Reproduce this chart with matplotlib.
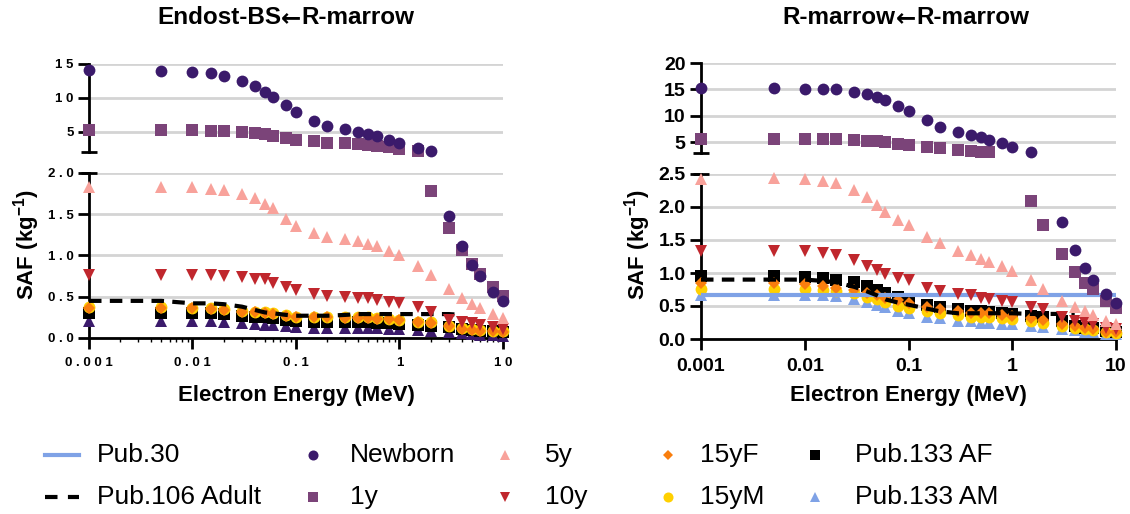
import numpy as np
import matplotlib
matplotlib.use('Agg')
import matplotlib.pyplot as plt
from matplotlib.lines import Line2D
from matplotlib.ticker import LogLocator, NullFormatter

plt.rcParams['font.family'] = ['Liberation Sans', 'DejaVu Sans']
plt.rcParams['mathtext.fontset'] = 'custom'
plt.rcParams['mathtext.rm'] = 'Liberation Sans:bold'
plt.rcParams['mathtext.bf'] = 'Liberation Sans:bold'
plt.rcParams['mathtext.default'] = 'bf'

# electron energies (MeV)
energy = [0.001, 0.005, 0.01, 0.015, 0.02, 0.03, 0.04, 0.05, 0.06, 0.08, 0.1,
          0.15, 0.2, 0.3, 0.4, 0.5, 0.6, 0.8, 1, 1.5, 2, 3, 4, 5, 6, 8, 10]
pub106_energy = energy[:23]
pub30_energy = [0.001, 10]

# Endost-BS <- R-marrow
bs_newborn = [14.1, 14.0, 13.8, 13.6, 13.2, 12.5, 11.7, 10.9, 10.1, 8.9, 7.9, 6.6, 5.9, 5.4,
              5.0, 4.7, 4.4, 3.8, 3.4, 2.65, 2.1, 1.48, 1.11, 0.89, 0.75, 0.56, 0.45]
bs_1y = [5.2, 5.2, 5.2, 5.15, 5.1, 5.0, 4.85, 4.6, 4.4, 4.0, 3.7, 3.6, 3.4, 3.3,
         3.15, 3.0, 2.85, 2.7, 2.5, 2.2, 1.78, 1.33, 1.07, 0.90, 0.78, 0.62, 0.51]
bs_5y = [1.83, 1.83, 1.83, 1.81, 1.79, 1.75, 1.70, 1.63, 1.57, 1.44, 1.36, 1.27, 1.22, 1.20,
         1.18, 1.14, 1.11, 1.05, 1.01, 0.87, 0.76, 0.59, 0.49, 0.415, 0.365, 0.29, 0.245]
bs_10y = [0.76, 0.76, 0.76, 0.76, 0.75, 0.74, 0.72, 0.71, 0.67, 0.62, 0.58, 0.53, 0.51, 0.50,
          0.49, 0.48, 0.46, 0.44, 0.42, 0.37, 0.31, 0.22, 0.20, 0.18, 0.16, 0.13, 0.11]
bs_15yf = [0.36, 0.36, 0.36, 0.35, 0.34, 0.32, 0.31, 0.30, 0.29, 0.27, 0.26, 0.25, 0.25, 0.24,
           0.24, 0.24, 0.23, 0.23, 0.22, 0.20, 0.18, 0.14, 0.11, 0.10, 0.09, 0.08, 0.07]
bs_15ym = [0.37, 0.37, 0.36, 0.36, 0.35, 0.33, 0.32, 0.31, 0.30, 0.28, 0.26, 0.25, 0.25, 0.25,
           0.25, 0.25, 0.24, 0.23, 0.22, 0.20, 0.19, 0.15, 0.12, 0.11, 0.10, 0.09, 0.08]
bs_af = [0.30, 0.30, 0.30, 0.30, 0.29, 0.27, 0.26, 0.25, 0.24, 0.22, 0.21, 0.19, 0.19, 0.19,
         0.19, 0.19, 0.18, 0.18, 0.17, 0.16, 0.15, 0.13, 0.11, 0.10, 0.09, 0.08, 0.07]
bs_am = [0.21, 0.21, 0.21, 0.21, 0.20, 0.18, 0.17, 0.16, 0.155, 0.14, 0.13, 0.125, 0.12, 0.12,
         0.12, 0.12, 0.12, 0.115, 0.11, 0.10, 0.09, 0.07, 0.06, 0.05, 0.04, 0.035, 0.03]
bs_pub106 = [0.45, 0.45, 0.42, 0.42, 0.41, 0.38, 0.34, 0.31, 0.30, 0.28, 0.27, 0.27,
             0.27, 0.28, 0.29, 0.29, 0.29, 0.29, 0.29, 0.29, 0.29, 0.29, 0.28]

# R-marrow <- R-marrow
rm_newborn = [15.3, 15.3, 15.1, 15.0, 15.0, 14.5, 14.1, 13.6, 13.0, 11.9, 11.0, 9.2, 8.0, 7.0,
              6.4, 6.0, 5.5, 4.8, 4.2, 3.2, 2.8, 1.78, 1.35, 1.08, 0.90, 0.68, 0.54]
rm_1y = [5.6, 5.6, 5.6, 5.6, 5.6, 5.4, 5.3, 5.2, 5.1, 4.7, 4.55, 4.2, 4.0, 3.6,
         3.4, 3.2, 3.1, 2.9, 2.7, 2.09, 1.73, 1.29, 1.02, 0.85, 0.76, 0.57, 0.47]
rm_5y = [2.43, 2.44, 2.43, 2.40, 2.36, 2.25, 2.15, 2.03, 1.93, 1.80, 1.73, 1.54, 1.45, 1.34,
         1.27, 1.21, 1.17, 1.10, 1.03, 0.89, 0.76, 0.58, 0.48, 0.42, 0.36, 0.28, 0.23]
rm_10y = [1.34, 1.33, 1.33, 1.30, 1.27, 1.20, 1.11, 1.05, 0.99, 0.92, 0.89, 0.78, 0.73, 0.68,
          0.66, 0.62, 0.60, 0.58, 0.56, 0.49, 0.45, 0.34, 0.28, 0.25, 0.23, 0.17, 0.15]
rm_15yf = [0.85, 0.85, 0.84, 0.81, 0.77, 0.74, 0.70, 0.66, 0.62, 0.585, 0.55, 0.49, 0.46, 0.42,
           0.40, 0.39, 0.39, 0.37, 0.35, 0.32, 0.29, 0.23, 0.20, 0.17, 0.15, 0.11, 0.10]
rm_15ym = [0.76, 0.76, 0.76, 0.75, 0.73, 0.69, 0.64, 0.60, 0.56, 0.50, 0.47, 0.43, 0.39, 0.36,
           0.34, 0.33, 0.33, 0.32, 0.30, 0.27, 0.24, 0.20, 0.17, 0.15, 0.13, 0.10, 0.09]
rm_af = [0.95, 0.95, 0.94, 0.92, 0.90, 0.86, 0.81, 0.75, 0.70, 0.63, 0.57, 0.52, 0.48, 0.45,
         0.43, 0.42, 0.41, 0.39, 0.38, 0.35, 0.33, 0.27, 0.19, 0.17, 0.16, 0.12, 0.11]
rm_am = [0.67, 0.67, 0.67, 0.66, 0.65, 0.61, 0.555, 0.52, 0.48, 0.43, 0.40, 0.34, 0.32, 0.28,
         0.27, 0.25, 0.24, 0.23, 0.22, 0.19, 0.18, 0.15, 0.13, 0.11, 0.10, 0.08, 0.07]
rm_pub106 = [0.90, 0.90, 0.90, 0.88, 0.86, 0.79, 0.72, 0.66, 0.60, 0.55, 0.52, 0.46,
             0.42, 0.39, 0.39, 0.39, 0.39, 0.39, 0.39, 0.38, 0.38, 0.38, 0.38]
rm_pub30 = [0.66, 0.66]

xtick_vals = [0.001, 0.01, 0.1, 1, 10]
xtick_labels = ['0.001', '0.01', '0.1', '1', '10']

C_NEWBORN = '#3b1a6b'
C_1Y = '#7b4479'
C_5Y = '#f8a29b'
C_10Y = '#c0272d'
C_15YF = '#f97e0e'
C_15YM = '#ffd000'
C_AF = '#000000'
C_AM = '#7fa2e6'
GRID = '#d4d4d4'

# marker styles: (marker, size)
STY = {
    'am': ('^', 9.0), 'af': ('s', 8.0), '15ym': ('o', 8.5), '15yf': ('D', 6.5),
    '10y': ('v', 9.0), '5y': ('^', 9.0), '1y': ('s', 8.0), 'newborn': ('o', 8.5),
}

W, H = 1130, 514
fig = plt.figure(figsize=(W / 100, H / 100), dpi=100)
renderer = fig.canvas.get_renderer()


def px_axes(x0, x1, y0, y1):
    return fig.add_axes([x0 / W, 1 - y1 / H, (x1 - x0) / W, (y1 - y0) / H])


def spaced(s):
    return ' '.join(s)


def setup(ax_top, ax_bot, top_lim, top_ticks, bot_lim, bot_ticks, small):
    tick_fs = 9.5 if small else 14
    for ax in (ax_top, ax_bot):
        ax.set_xscale('log')
        ax.set_xlim(0.001, 10)
        for s in ('top', 'right'):
            ax.spines[s].set_visible(False)
        ax.spines['left'].set_linewidth(2)
        ax.spines['bottom'].set_linewidth(2)
        ax.tick_params(axis='y', direction='out', length=8, width=2, pad=3)
        ax.set_axisbelow(True)
        ax.yaxis.grid(True, color=GRID, linewidth=2)
    ax_top.set_ylim(*top_lim)
    ax_bot.set_ylim(*bot_lim)
    ax_top.set_yticks(top_ticks)
    ax_bot.set_yticks(bot_ticks)
    ax_top.spines['bottom'].set_visible(False)
    ax_top.tick_params(axis='x', which='both', bottom=False, labelbottom=False)

    fmt = spaced if small else (lambda s: s)
    ax_top.set_yticklabels([fmt('%d' % t) for t in top_ticks], fontsize=tick_fs, fontweight='bold')
    ax_bot.set_yticklabels([fmt('%.1f' % t) for t in bot_ticks], fontsize=tick_fs, fontweight='bold')
    ax_bot.set_xticks(xtick_vals)
    ax_bot.set_xticklabels([fmt(t) for t in xtick_labels], fontsize=tick_fs, fontweight='bold')
    ax_bot.xaxis.set_minor_locator(LogLocator(base=10, subs=np.arange(2, 10)))
    ax_bot.xaxis.set_minor_formatter(NullFormatter())
    if small:
        ax_bot.tick_params(axis='x', which='minor', direction='out', length=3, width=1)
    else:
        ax_bot.tick_params(axis='x', which='minor', bottom=False)
    ax_bot.tick_params(axis='x', which='major', direction='out', length=8, width=2, pad=6)

    # end caps marking the axis break
    for ax, yy in ((ax_top, 0), (ax_bot, 1)):
        half = 8 / (ax.get_position().width * W)
        ax.plot([-half, half], [yy, yy], color='black', lw=2, transform=ax.transAxes,
                clip_on=False, solid_capstyle='butt', zorder=5)


def scatter_split(ax_top, ax_bot, x, y, key, color, z):
    x = np.asarray(x)
    y = np.asarray(y)
    marker, ms = STY[key]
    lo_top = ax_top.get_ylim()[0]
    hi_bot = ax_bot.get_ylim()[1]
    m_top = y >= lo_top
    m_bot = y <= hi_bot
    ax_top.plot(x[m_top], y[m_top], linestyle='none', marker=marker, ms=ms, color=color,
                markeredgewidth=0, clip_on=False, zorder=z)
    ax_bot.plot(x[m_bot], y[m_bot], linestyle='none', marker=marker, ms=ms, color=color,
                markeredgewidth=0, clip_on=False, zorder=z)


def title_with_arrow(xc, yc, left, right, fs):
    # the arrow comes from DejaVu Sans, the words from Liberation Sans
    parts = [(left, 'Liberation Sans'), ('\u2190', 'DejaVu Sans'), (right, 'Liberation Sans')]
    texts = [fig.text(0, 1 - yc / H, s, fontsize=fs, fontweight='bold', family=f,
                      ha='left', va='center') for s, f in parts]
    widths = [t.get_window_extent(renderer).width for t in texts]
    x = xc - sum(widths) / 2
    for t, w in zip(texts, widths):
        t.set_x(x / W)
        x += w


# ---- left panel ----
axL_top = px_axes(89, 503, 64, 152)
axL_bot = px_axes(89, 503, 173, 338)
setup(axL_top, axL_bot, (2, 15), [5, 10, 15], (0, 2.0), [0.0, 0.5, 1.0, 1.5, 2.0], True)

scatter_split(axL_top, axL_bot, energy, bs_am, 'am', C_NEWBORN, 3)
scatter_split(axL_top, axL_bot, energy, bs_af, 'af', C_AF, 4)
scatter_split(axL_top, axL_bot, energy, bs_15ym, '15ym', C_15YM, 5)
scatter_split(axL_top, axL_bot, energy, bs_15yf, '15yf', C_15YF, 6)
axL_bot.plot(pub106_energy, bs_pub106, color='black', lw=3, linestyle=(0, (3, 2)), zorder=7)
scatter_split(axL_top, axL_bot, energy, bs_10y, '10y', C_10Y, 8)
scatter_split(axL_top, axL_bot, energy, bs_5y, '5y', C_5Y, 9)
scatter_split(axL_top, axL_bot, energy, bs_1y, '1y', C_1Y, 10)
scatter_split(axL_top, axL_bot, energy, bs_newborn, 'newborn', C_NEWBORN, 11)

# ---- right panel ----
axR_top = px_axes(701, 1116, 63, 153)
axR_bot = px_axes(701, 1116, 174, 339)
setup(axR_top, axR_bot, (3, 20), [5, 10, 15, 20], (0, 2.5), [0.0, 0.5, 1.0, 1.5, 2.0, 2.5], False)

scatter_split(axR_top, axR_bot, energy, rm_am, 'am', C_AM, 3)
scatter_split(axR_top, axR_bot, energy, rm_af, 'af', C_AF, 4)
scatter_split(axR_top, axR_bot, energy, rm_15ym, '15ym', C_15YM, 5)
scatter_split(axR_top, axR_bot, energy, rm_15yf, '15yf', C_15YF, 6)
axR_bot.plot(pub30_energy, rm_pub30, color=C_AM, lw=3, zorder=7)
axR_bot.plot(pub106_energy, rm_pub106, color='black', lw=3, linestyle=(0, (3, 2)), zorder=7)
scatter_split(axR_top, axR_bot, energy, rm_10y, '10y', C_10Y, 8)
scatter_split(axR_top, axR_bot, energy, rm_5y, '5y', C_5Y, 9)
scatter_split(axR_top, axR_bot, energy, rm_1y, '1y', C_1Y, 10)
scatter_split(axR_top, axR_bot, energy, rm_newborn, 'newborn', C_NEWBORN, 11)

# titles and axis labels
title_with_arrow(286, 18, 'Endost-BS', 'R-marrow', 17.5)
title_with_arrow(906, 18, 'R-marrow', 'R-marrow', 17.5)
for xc in (296, 908):
    fig.text(xc / W, 1 - 396 / H, 'Electron Energy (MeV)', ha='center', va='center',
             fontsize=16, fontweight='bold')
for xc in (27, 638):
    fig.text(xc / W, 1 - 245 / H, r'SAF (kg$^{-1}$)', ha='center', va='center',
             rotation=90, fontsize=16, fontweight='bold')

# legend, laid out by hand in two rows
legend_items = [
    ('line', C_AM, 'Pub.30', 62, 97, 455),
    ('dash', 'black', 'Pub.106 Adult', 62, 97, 497),
    ('newborn', C_NEWBORN, 'Newborn', 313, 350, 455),
    ('1y', C_1Y, '1y', 313, 350, 497),
    ('5y', C_5Y, '5y', 505, 545, 455),
    ('10y', C_10Y, '10y', 505, 545, 497),
    ('15yf', C_15YF, '15yF', 668, 700, 455),
    ('15ym', C_15YM, '15yM', 668, 700, 497),
    ('af', C_AF, 'Pub.133 AF', 815, 855, 455),
    ('am', C_AM, 'Pub.133 AM', 815, 855, 497),
]
for kind, color, label, hx, tx, ty in legend_items:
    yy = 1 - ty / H
    if kind == 'line':
        fig.add_artist(Line2D([(hx - 17) / W, (hx + 17) / W], [yy, yy], color=color, lw=3,
                              transform=fig.transFigure))
    elif kind == 'dash':
        fig.add_artist(Line2D([(hx - 17) / W, (hx + 17) / W], [yy, yy], color=color, lw=3,
                              linestyle=(0, (3, 2.5)), transform=fig.transFigure))
    else:
        marker, ms = STY[kind]
        fig.add_artist(Line2D([hx / W], [yy], marker=marker, ms=ms * 0.85, color=color,
                              markeredgewidth=0, linestyle='none', transform=fig.transFigure))
    fig.text(tx / W, yy, label, ha='left', va='center', fontsize=19)

fig.savefig('out.png', dpi=100)
